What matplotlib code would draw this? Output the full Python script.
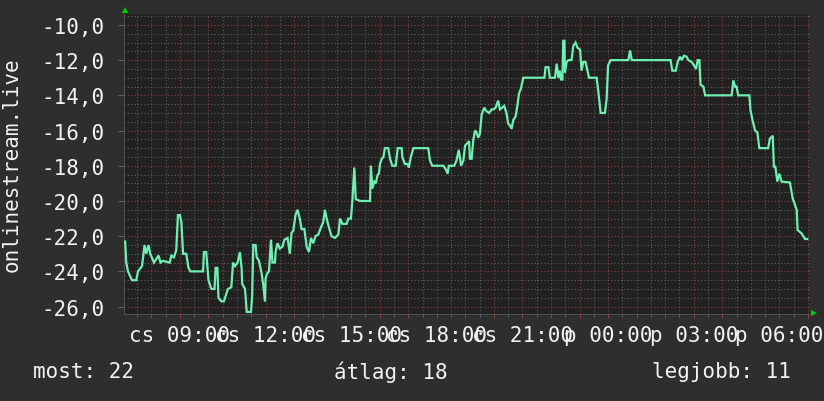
import matplotlib
matplotlib.use("Agg")
import matplotlib.pyplot as plt
from matplotlib.ticker import MultipleLocator, FixedLocator, FuncFormatter

# hours since midnight of the first day (07:00 -> 7.0, next day 06:00 -> 30.0)
hours = [
    7.08, 7.12, 7.18, 7.32, 7.47, 7.53, 7.67, 7.76, 7.82, 7.90, 7.96, 8.09, 8.25, 8.32,
    8.40, 8.64, 8.70, 8.79, 8.87, 8.93, 9.00, 9.05, 9.11, 9.22, 9.30, 9.37, 9.81, 9.84,
    9.92, 10.00, 10.10, 10.21, 10.25, 10.31, 10.35, 10.45, 10.54, 10.62, 10.68, 10.80,
    10.86, 10.93, 11.02, 11.10, 11.16, 11.18, 11.28, 11.34, 11.49, 11.53, 11.57, 11.65,
    11.69, 11.77, 11.86, 11.92, 11.98, 12.00, 12.06, 12.12, 12.19, 12.24, 12.33, 12.35,
    12.42, 12.50, 12.59, 12.66, 12.77, 12.85, 12.91, 12.97, 13.05, 13.12, 13.20, 13.26,
    13.36, 13.44, 13.52, 13.59, 13.67, 13.75, 13.85, 13.94, 14.02, 14.08, 14.14, 14.22,
    14.31, 14.43, 14.55, 14.61, 14.69, 14.84, 14.90, 14.99, 15.04, 15.11, 15.16, 15.31,
    15.66, 15.69, 15.74, 15.81, 15.86, 15.93, 15.97, 16.01, 16.07, 16.13, 16.18, 16.30,
    16.36, 16.44, 16.56, 16.63, 16.77, 16.79, 16.88, 16.98, 17.02, 17.09, 17.18, 17.70,
    17.76, 17.84, 18.23, 18.31, 18.38, 18.42, 18.61, 18.69, 18.77, 18.85, 18.93, 18.99,
    19.08, 19.13, 19.16, 19.22, 19.28, 19.34, 19.39, 19.45, 19.51, 19.57, 19.66, 19.74,
    19.83, 19.92, 19.98, 20.06, 20.15, 20.21, 20.29, 20.36, 20.44, 20.50, 20.56, 20.62,
    20.68, 20.76, 20.83, 20.88, 20.95, 21.03, 21.77, 21.81, 21.91, 21.96, 22.14, 22.20,
    22.26, 22.31, 22.35, 22.40, 22.43, 22.47, 22.49, 22.55, 22.61, 22.72, 22.78, 22.86,
    22.93, 23.02, 23.07, 23.13, 23.21, 23.28, 23.33, 23.54, 23.60, 23.66, 23.74, 23.89,
    23.95, 24.00, 24.09, 24.71, 24.77, 24.83, 26.19, 26.25, 26.37, 26.44, 26.52, 26.58,
    26.66, 26.75, 26.81, 26.93, 27.01, 27.08, 27.14, 27.20, 27.24, 27.34, 27.40, 28.33,
    28.39, 28.45, 28.50, 28.56, 28.95, 28.99, 29.06, 29.15, 29.23, 29.30, 29.61, 29.67,
    29.77, 29.81, 29.86, 29.93, 30.00, 30.08, 30.37, 30.43, 30.47, 30.61, 30.64, 30.78,
    30.90, 30.98,
]
values = [
    -22.3, -23.5, -24.0, -24.5, -24.5, -24.0, -23.7, -22.5, -23.0, -22.5, -23.0, -23.5, -23.1, -23.5,
    -23.4, -23.5, -23.1, -23.2, -22.8, -20.8, -20.8, -21.2, -23.0, -23.0, -23.8, -24.0, -24.0, -22.9,
    -22.9, -24.5, -25.0, -25.0, -23.8, -23.8, -25.5, -25.7, -25.7, -25.3, -25.0, -24.9,
    -23.5, -23.7, -23.5, -22.9, -23.8, -24.7, -25.0, -26.3, -26.3, -25.4, -22.5, -22.5,
    -23.2, -23.4, -24.1, -24.8, -25.7, -24.4, -24.1, -24.0, -22.2, -23.5, -23.5, -22.9,
    -22.4, -22.7, -22.6, -22.2, -22.1, -23.0, -21.8, -21.7, -20.8, -20.5, -21.0, -21.6,
    -21.6, -22.6, -22.9, -22.1, -22.4, -22.0, -21.9, -21.5, -21.2, -20.5, -21.0, -21.5,
    -22.0, -22.1, -21.9, -21.0, -21.3, -21.3, -21.0, -21.0, -20.0, -18.1, -19.9, -20.0,
    -20.0, -18.0, -19.3, -18.9, -19.0, -18.5, -18.45, -17.9, -17.6, -17.5, -17.0, -17.0,
    -17.6, -18.0, -18.0, -17.0, -17.0, -17.5, -17.9, -17.9, -18.1, -17.5, -17.0, -17.0,
    -17.7, -18.0, -18.0, -18.2, -18.45, -18.0, -18.0, -17.7, -17.1, -18.0, -17.7, -16.85,
    -16.7, -16.6, -17.6, -17.6, -16.5, -16.0, -16.1, -16.4, -16.2, -15.1, -14.7, -14.9,
    -15.0, -14.8, -14.8, -14.7, -14.3, -14.8, -14.7, -14.6, -15.0, -15.6, -15.7, -15.9,
    -15.4, -15.2, -14.5, -13.9, -13.6, -13.0, -13.0, -12.4, -12.4, -13.0, -13.0, -12.2,
    -13.0, -12.6, -13.1, -13.1, -10.9, -10.9, -12.7, -12.1, -12.0, -12.0, -11.2, -11.0,
    -11.3, -11.4, -12.6, -12.1, -12.1, -12.6, -13.0, -13.0, -13.0, -13.8, -15.0, -15.0,
    -14.2, -12.3, -12.0, -12.0, -11.45, -12.0, -12.0, -12.6, -12.6, -12.1, -11.8, -12.0,
    -11.75, -11.8, -12.0, -12.1, -12.3, -12.5, -12.0, -12.0, -13.4, -13.5, -14.0, -14.0,
    -13.15, -13.5, -13.5, -14.0, -14.0, -14.85, -15.4, -16.0, -16.1, -17.0, -17.0, -16.45,
    -16.3, -18.05, -18.05, -18.9, -18.45, -18.9, -18.95, -19.5, -19.86, -20.5, -21.65, -21.84,
    -22.16, -22.16,
]

x_ticks = [9, 12, 15, 18, 21, 24, 27, 30]
x_labels = ["cs 09:00", "cs 12:00", "cs 15:00", "cs 18:00", "cs 21:00",
            "p 00:00", "p 03:00", "p 06:00"]
y_ticks = [-26, -24, -22, -20, -18, -16, -14, -12, -10]
legend_texts = ["most: 22", "átlag: 18", "legjobb: 11"]
y_title = "onlinestream.live"

BG = "#2E2E2E"
PLOT_BG = "#212121"
FG = "#F2F2F2"
LINE = "#6FEFB2"
MAJOR = "#8C4040"
MINOR = "#606060"

plt.rcParams["font.family"] = ["DejaVu Sans Mono"]
FS = 15

fig = plt.figure(figsize=(8.24, 4.02), dpi=100, facecolor=BG)
ax = fig.add_axes([124 / 824, 87 / 402, 685 / 824, 300 / 402])
ax.set_facecolor(PLOT_BG)

ax.plot(hours, values, color=LINE, lw=1.6, solid_joinstyle="miter", zorder=3)

ax.set_xlim(7.04, 31.04)
ax.set_ylim(-26.42, -9.38)

# grid: red every hour / 2 units, grey every half
major_x = list(range(8, 32))
lab = dict(zip(x_ticks, x_labels))
ax.xaxis.set_major_locator(FixedLocator(major_x))
ax.xaxis.set_major_formatter(FuncFormatter(lambda v, p: lab.get(int(round(v)), "")))
ax.xaxis.set_minor_locator(MultipleLocator(0.5))
ax.yaxis.set_major_locator(FixedLocator(y_ticks))
ax.yaxis.set_major_formatter(FuncFormatter(lambda v, p: ("%.1f" % v).replace(".", ",")))
ax.yaxis.set_minor_locator(MultipleLocator(0.5))

dots = (0, (1, 2))
ax.grid(which="minor", color=MINOR, lw=0.8, ls=dots, zorder=1)
ax.grid(which="major", color=MAJOR, lw=0.8, ls=dots, zorder=2)

ax.tick_params(axis="x", which="major", colors=MAJOR, length=3, width=0.75,
               labelcolor=FG, labelsize=FS, pad=5)
ax.tick_params(axis="x", which="minor", colors=MINOR, length=2, width=0.75)
ax.tick_params(axis="y", which="major", colors=MINOR, length=4, width=0.75,
               labelcolor=FG, labelsize=FS, pad=10)
ax.tick_params(axis="y", which="minor", length=0)

for s in ["top", "right"]:
    ax.spines[s].set_visible(False)
for s in ["left", "bottom"]:
    ax.spines[s].set_color("#505050")
    ax.spines[s].set_linewidth(0.75)

# rrdtool style arrows
ax.plot([0.0015], [1.013], marker="^", color="#00CC00", ms=5, mew=0,
        transform=ax.transAxes, clip_on=False)
ax.plot([1.007], [0.004], marker=">", color="#00CC00", ms=5, mew=0,
        transform=ax.transAxes, clip_on=False)

fig.text(12 / 824, 1 - 165 / 402, y_title, rotation=90, color=FG, fontsize=FS,
         ha="center", va="center")

ly = 1 - 372 / 402
fig.text(33 / 824, ly, legend_texts[0], color=FG, fontsize=FS, ha="left", va="center")
fig.text(334 / 824, ly, legend_texts[1], color=FG, fontsize=FS, ha="left", va="center")
fig.text(791 / 824, ly, legend_texts[2], color=FG, fontsize=FS, ha="right", va="center")

fig.savefig("out.png", dpi=100, facecolor=BG)
